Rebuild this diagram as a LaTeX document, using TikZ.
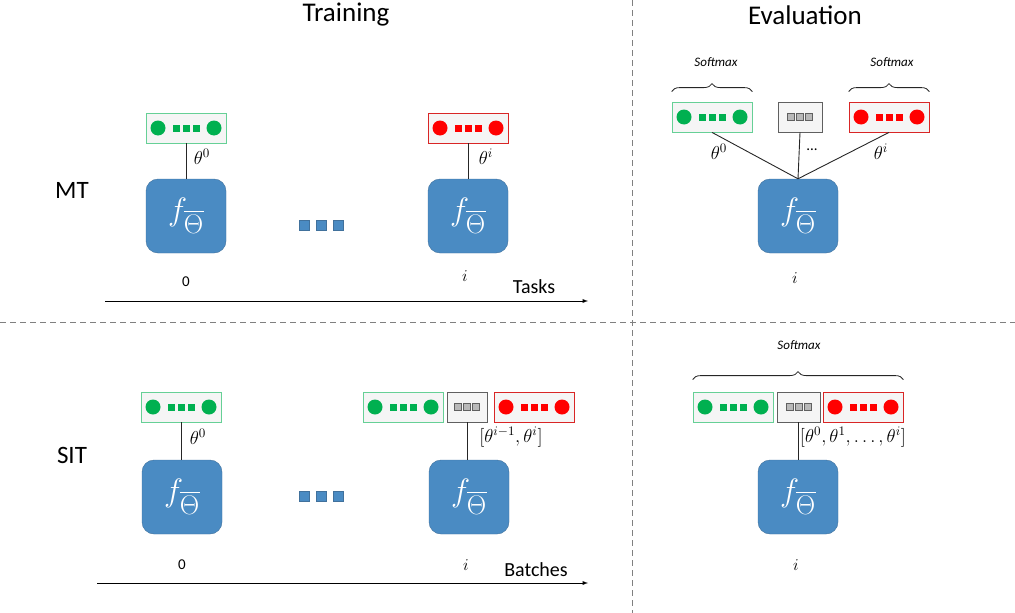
\documentclass[tikz,border=0pt]{standalone}
\usepackage{amsmath}
\usepackage{fontspec}
\setmainfont{Carlito}
\usetikzlibrary{decorations.pathreplacing}

\definecolor{hgreen}{RGB}{0,176,80}
\definecolor{hred}{RGB}{255,0,0}
\definecolor{mblue}{RGB}{74,139,195}
\definecolor{mborder}{RGB}{65,113,156}

\newcommand{\fTheta}{\scalebox{1.3}{$f_{\overline{\Theta}}$}}

\tikzset{
  headbox/.style={fill=gray!8, minimum width=80pt, minimum height=30pt, inner sep=0pt, line width=0.8pt},
  model/.style={draw=mborder, fill=mblue, rounded corners=12pt, minimum width=80pt,
    minimum height=74pt, inner sep=0pt, text=white, font=\fontsize{24.88}{26}\selectfont},
  link/.style={draw=gray!30!black, line width=0.9pt},
  axis/.style={->, >=latex, line width=0.9pt},
  sep/.style={gray, dashed, dash pattern=on 6pt off 4pt, line width=0.8pt},
  title/.style={font=\fontsize{27}{29}\selectfont},
  rowname/.style={font=\fontsize{25}{27}\selectfont},
  lbl/.style={font=\fontsize{15}{17}\selectfont},
  ilbl/.style={font=\fontsize{14.4}{16}\selectfont, scale=1.15},
  tlbl/.style={font=\fontsize{14.4}{16}\selectfont, scale=1.3},
  axlbl/.style={font=\fontsize{20}{22}\selectfont},
  smx/.style={font=\fontsize{13}{15}\selectfont\itshape},
  brc/.style={decorate, decoration={brace, amplitude=8pt}, line width=0.8pt, gray!30!black},
  pics/head/.style 2 args={code={
    \node[headbox, draw=#2] (-box) {};
    \fill[#1] (-28,0) circle (7.5) (28,0) circle (7.5);
    \foreach \dx in {-10,0,10}
      \fill[#1] (\dx-3.5,-3.5) rectangle (\dx+3.5,3.5);
  }},
  pics/gap/.style={code={
    \node[headbox, draw=gray!75!black, minimum width=#1] (-box) {};
    \foreach \dx in {-9,0,9}
      \filldraw[fill=gray!55, draw=gray!75!black, line width=0.5pt] (\dx-3.5,-3.5) rectangle (\dx+3.5,3.5);
  }},
}

\begin{document}
\begin{tikzpicture}[x=1pt, y=-1pt]
  \useasboundingbox (0,0) rectangle (1015,613);
  \draw[sep] (632,0) -- (632,613);
  \draw[sep] (0,322) -- (1015,322);
  \node[title] (train) at (346,15) {Training};
  \node[title] (eval) at (805,15) {Evaluation};
  \node[rowname] (mt) at (72,190) {MT};
  \node[rowname] (sit) at (72,455) {SIT};

  % MT, training
  \pic (mtA) at (186,128) {head={hgreen}{hgreen!60}};
  \pic (mtB) at (468,128) {head={hred}{hred!70!gray}};
  \node[model] (mtF0) at (186,216) {\fTheta};
  \node[model] (mtFi) at (468,216) {\fTheta};
  \draw[link] (mtA-box.south) -- (mtF0.north);
  \draw[link] (mtB-box.south) -- (mtFi.north);
  \node[tlbl] (mtT0) at (202,157) {$\theta^0$};
  \node[tlbl] (mtTi) at (486,157) {$\theta^i$};
  \foreach \x in {304,321,338}
    \filldraw[fill=mblue, draw=mborder] (\x-5,220) rectangle (\x+5,230);
  \node[lbl] (mt0) at (186,282) {0};
  \node[ilbl] (mti) at (465,276) {$i$};
  \node[axlbl] (tasks) at (534,287) {Tasks};
  \coordinate (mtS) at (105,301);
  \coordinate (mtE) at (588,301);
  \draw[axis] (mtS) -- (mtE);

  % MT, evaluation
  \pic (eA) at (712,117) {head={hgreen}{hgreen!60}};
  \pic (eG) at (800,117) {gap=44pt};
  \pic (eB) at (889,117) {head={hred}{hred!70!gray}};
  \node[model] (eF) at (798,216) {\fTheta};
  \draw[link] (eA-box.south) -- (eF.north);
  \draw[link] (eG-box.south) -- (eF.north);
  \draw[link] (eB-box.south) -- (eF.north);
  \node[tlbl] (eT0) at (719,152) {$\theta^0$};
  \node[lbl] (eDots) at (812,150) {...};
  \node[tlbl] (eTi) at (881,152) {$\theta^i$};
  \draw[brc] ([yshift=10pt]eA-box.north west) -- ([yshift=10pt]eA-box.north east);
  \draw[brc] ([yshift=10pt]eB-box.north west) -- ([yshift=10pt]eB-box.north east);
  \node[smx] (eSA) at (716,62) {Softmax};
  \node[smx] (eSB) at (892,62) {Softmax};
  \node[ilbl] (ei) at (795,278) {$i$};

  % SIT, training
  \pic (sA) at (181,407) {head={hgreen}{hgreen!60}};
  \pic (sB) at (403,407) {head={hgreen}{hgreen!60}};
  \pic (sG) at (467,407) {gap=40pt};
  \pic (sC) at (534,407) {head={hred}{hred!70!gray}};
  \node[model] (sF0) at (182,497) {\fTheta};
  \node[model] (sFi) at (469,497) {\fTheta};
  \draw[link] (sA-box.south) -- (sA-box.south |- sF0.north);
  \draw[link] (sG-box.south) -- (sG-box.south |- sFi.north);
  \node[tlbl] (sT0) at (198,437) {$\theta^0$};
  \node[tlbl] (sTi) at (511,437) {$[\theta^{i-1},\theta^i]$};
  \foreach \x in {304,321,338}
    \filldraw[fill=mblue, draw=mborder] (\x-5,491) rectangle (\x+5,501);
  \node[lbl] (s0) at (182,565) {0};
  \node[ilbl] (si) at (466,565) {$i$};
  \node[axlbl] (batches) at (536,570) {Batches};
  \coordinate (sS) at (97,583);
  \coordinate (sE) at (588,583);
  \draw[axis] (sS) -- (sE);

  % SIT, evaluation
  \pic (tA) at (733,407) {head={hgreen}{hgreen!60}};
  \pic (tG) at (798.5,407) {gap=43pt};
  \pic (tB) at (863,407) {head={hred}{hred!70!gray}};
  \node[model] (tF) at (798,497) {\fTheta};
  \draw[link] (tG-box.south) -- (tG-box.south |- tF.north);
  \node[tlbl] (tT) at (853,437) {$[\theta^0,\theta^1,\dots,\theta^i]$};
  \draw[brc] ([yshift=12pt]tA-box.north west) -- ([yshift=12pt]tB-box.north east);
  \node[smx] (tS) at (799,345) {Softmax};
  \node[ilbl] (ti) at (796,565) {$i$};
\end{tikzpicture}
\end{document}
